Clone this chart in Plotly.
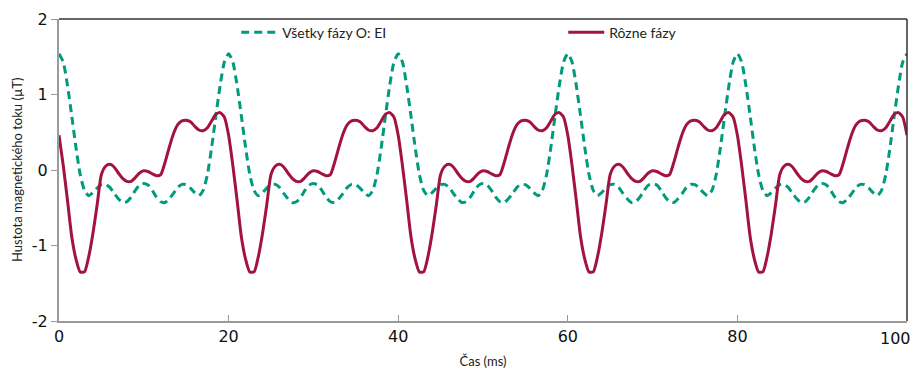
import numpy as np
import plotly.graph_objects as go

# time axis (ms), sampled every 0.5 ms
time_ms = np.linspace(0, 100, 201)

# "Všetky fázy O: EI" (dashed teal)
vsetky_fazy = [
    1.54, 1.43, 1.12, 0.72, 0.30, -0.06, -0.27, -0.34, -0.30, -0.24,
    -0.195, -0.19, -0.23, -0.31, -0.38, -0.43, -0.42, -0.36, -0.27, -0.20,
    -0.18, -0.20, -0.27, -0.36, -0.42, -0.43, -0.38, -0.31, -0.23, -0.19,
    -0.195, -0.24, -0.30, -0.34, -0.27, -0.06, 0.30, 0.72, 1.12, 1.43,
    1.54, 1.43, 1.12, 0.72, 0.30, -0.06, -0.27, -0.34, -0.30, -0.24,
    -0.195, -0.19, -0.23, -0.31, -0.38, -0.43, -0.42, -0.36, -0.27, -0.20,
    -0.18, -0.20, -0.27, -0.36, -0.42, -0.43, -0.38, -0.31, -0.23, -0.19,
    -0.195, -0.24, -0.30, -0.34, -0.27, -0.06, 0.30, 0.72, 1.12, 1.43,
    1.54, 1.43, 1.12, 0.72, 0.30, -0.06, -0.27, -0.34, -0.30, -0.24,
    -0.195, -0.19, -0.23, -0.31, -0.38, -0.43, -0.42, -0.36, -0.27, -0.20,
    -0.18, -0.20, -0.27, -0.36, -0.42, -0.43, -0.38, -0.31, -0.23, -0.19,
    -0.195, -0.24, -0.30, -0.34, -0.27, -0.06, 0.30, 0.72, 1.12, 1.43,
    1.54, 1.43, 1.12, 0.72, 0.30, -0.06, -0.27, -0.34, -0.30, -0.24,
    -0.195, -0.19, -0.23, -0.31, -0.38, -0.43, -0.42, -0.36, -0.27, -0.20,
    -0.18, -0.20, -0.27, -0.36, -0.42, -0.43, -0.38, -0.31, -0.23, -0.19,
    -0.195, -0.24, -0.30, -0.34, -0.27, -0.06, 0.30, 0.72, 1.12, 1.43,
    1.54, 1.43, 1.12, 0.72, 0.30, -0.06, -0.27, -0.34, -0.30, -0.24,
    -0.195, -0.19, -0.23, -0.31, -0.38, -0.43, -0.42, -0.36, -0.27, -0.20,
    -0.18, -0.20, -0.27, -0.36, -0.42, -0.43, -0.38, -0.31, -0.23, -0.19,
    -0.195, -0.24, -0.30, -0.34, -0.27, -0.06, 0.30, 0.72, 1.12, 1.43,
    1.54,
]

# "Rôzne fázy" (solid crimson)
rozne_fazy = [
    0.46, 0.06, -0.40, -0.88, -1.18, -1.35, -1.35, -1.15, -0.84, -0.46,
    -0.06, 0.05, 0.075, 0.04, -0.04, -0.11, -0.15, -0.15, -0.10, -0.04,
    -0.01, -0.02, -0.05, -0.075, -0.06, 0.10, 0.30, 0.48, 0.60, 0.65,
    0.66, 0.64, 0.58, 0.53, 0.52, 0.56, 0.65, 0.74, 0.76, 0.70,
    0.46, 0.06, -0.40, -0.88, -1.18, -1.35, -1.35, -1.15, -0.84, -0.46,
    -0.06, 0.05, 0.075, 0.04, -0.04, -0.11, -0.15, -0.15, -0.10, -0.04,
    -0.01, -0.02, -0.05, -0.075, -0.06, 0.10, 0.30, 0.48, 0.60, 0.65,
    0.66, 0.64, 0.58, 0.53, 0.52, 0.56, 0.65, 0.74, 0.76, 0.70,
    0.46, 0.06, -0.40, -0.88, -1.18, -1.35, -1.35, -1.15, -0.84, -0.46,
    -0.06, 0.05, 0.075, 0.04, -0.04, -0.11, -0.15, -0.15, -0.10, -0.04,
    -0.01, -0.02, -0.05, -0.075, -0.06, 0.10, 0.30, 0.48, 0.60, 0.65,
    0.66, 0.64, 0.58, 0.53, 0.52, 0.56, 0.65, 0.74, 0.76, 0.70,
    0.46, 0.06, -0.40, -0.88, -1.18, -1.35, -1.35, -1.15, -0.84, -0.46,
    -0.06, 0.05, 0.075, 0.04, -0.04, -0.11, -0.15, -0.15, -0.10, -0.04,
    -0.01, -0.02, -0.05, -0.075, -0.06, 0.10, 0.30, 0.48, 0.60, 0.65,
    0.66, 0.64, 0.58, 0.53, 0.52, 0.56, 0.65, 0.74, 0.76, 0.70,
    0.46, 0.06, -0.40, -0.88, -1.18, -1.35, -1.35, -1.15, -0.84, -0.46,
    -0.06, 0.05, 0.075, 0.04, -0.04, -0.11, -0.15, -0.15, -0.10, -0.04,
    -0.01, -0.02, -0.05, -0.075, -0.06, 0.10, 0.30, 0.48, 0.60, 0.65,
    0.66, 0.64, 0.58, 0.53, 0.52, 0.56, 0.65, 0.74, 0.76, 0.70,
    0.46,
]

x_ticks = [0, 20, 40, 60, 80, 100]
x_tick_text = ["0", "20", "40", "60", "80", ""]
y_ticks = [-2, -1, 0, 1, 2]

TEAL = "#009a7c"
CRIMSON = "#a3133f"
AXIS_GREY = "#9a9a9a"

fig = go.Figure()
fig.add_trace(go.Scatter(
    x=time_ms, y=vsetky_fazy, mode="lines", name="Všetky fázy O: EI",
    line=dict(color=TEAL, width=3, dash="8px,5px", shape="spline", smoothing=0.6),
))
fig.add_trace(go.Scatter(
    x=time_ms, y=rozne_fazy, mode="lines", name="Rôzne fázy",
    line=dict(color=CRIMSON, width=3, shape="spline", smoothing=0.6),
))

fig.update_layout(
    width=914, height=369,
    margin=dict(l=59, r=7, t=19, b=48, autoexpand=False),
    paper_bgcolor="white", plot_bgcolor="white",
    font=dict(family="DejaVu Sans", color="#111111"),
    showlegend=True,
    legend=dict(
        orientation="h", x=0.209, y=1.008, xanchor="left", yanchor="top",
        entrywidth=276, entrywidthmode="pixels",
        font=dict(family="Lato", size=14, color="#222222"),
        bgcolor="rgba(0,0,0,0)", itemwidth=36,
    ),
    xaxis=dict(
        range=[0, 100], tickvals=x_ticks, ticktext=x_tick_text,
        ticks="inside", ticklen=6, automargin=False,
        tickcolor=AXIS_GREY, showline=True, linecolor=AXIS_GREY, linewidth=2,
        showgrid=False, zeroline=False, tickfont=dict(size=16, color="#111"),
        title=dict(text="Čas (ms)", font=dict(family="Lato", size=13, color="#222")),
    ),
    yaxis=dict(
        range=[-2, 2], tickvals=y_ticks, ticktext=["-2", "-1", "0", "1", "2"],
        ticks="outside", ticklen=6, automargin=False,
        tickcolor=AXIS_GREY, showline=True, linecolor=AXIS_GREY, linewidth=2,
        showgrid=False, zeroline=False, tickfont=dict(size=16, color="#111"),
    ),
    shapes=[
        dict(type="line", xref="paper", yref="paper", x0=0, x1=1, y0=1, y1=1,
             line=dict(color="#333333", width=1.5)),
        dict(type="line", xref="paper", yref="paper", x0=1, x1=1, y0=0, y1=1,
             line=dict(color="#333333", width=1.5)),
    ],
    annotations=[
        dict(text="100", xref="x", yref="paper", x=100, y=0, xanchor="right",
             yanchor="top", xshift=6, yshift=-6, showarrow=False,
             font=dict(family="DejaVu Sans", size=16, color="#111")),
        dict(text="Hustota magnetického toku (µT)", xref="paper", yref="paper",
             x=-0.0495, y=0.5, xanchor="center", yanchor="middle", textangle=-90,
             showarrow=False, font=dict(family="Lato", size=13, color="#222")),
    ],
)

fig.write_html(
    "out.html",
    config={"displayModeBar": False},
    post_script="document.body.style.margin='0';document.body.style.overflow='hidden';",
)
